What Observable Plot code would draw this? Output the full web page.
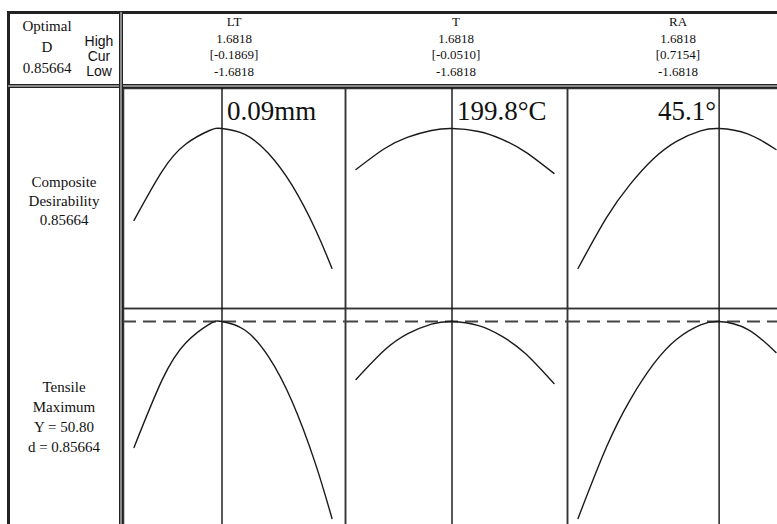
<!DOCTYPE html>
<html><head><meta charset="utf-8">
<script src="https://cdn.jsdelivr.net/npm/d3@7"></script>
<script src="https://cdn.jsdelivr.net/npm/@observablehq/plot@0.6"></script>
<style>
body{margin:0;background:#fff;overflow:hidden}
#wrap{position:relative;width:777px;height:524px;overflow:hidden;font-family:"Liberation Serif",serif;color:#111;background:#fff}
.a{position:absolute}
.c{text-align:center;white-space:nowrap}
</style></head><body><div id="wrap"></div><script>
// ---- data ----
const factors = ["LT", "T", "RA"];
const highs = ["1.6818", "1.6818", "1.6818"];
const currents = [-0.1869, -0.0510, 0.7154];
const lows = ["-1.6818", "-1.6818", "-1.6818"];
const optimumLabels = ["0.09mm", "199.8°C", "45.1°"];
const optimumD = "0.85664";
const tensileY = 50.80;

// coded factor settings at which the curves were read
const xLT = [-1.6818, -1.2, -0.8, -0.4, -0.1869, 0.2, 0.6, 1.0, 1.4, 1.6818];
const xT  = [-1.6818, -1.2, -0.8, -0.4, -0.0510, 0.4, 0.8, 1.2, 1.6818];
const xRA = [-1.6818, -1.2, -0.8, -0.4, 0.0, 0.4, 0.7154, 1.2, 1.6818];

// composite desirability
const dLT = [0.388, 0.641, 0.778, 0.847, 0.857, 0.827, 0.731, 0.569, 0.342, 0.143];
const dT  = [0.648, 0.754, 0.813, 0.847, 0.857, 0.842, 0.802, 0.737, 0.628];
const dRA = [0.143, 0.401, 0.571, 0.703, 0.793, 0.845, 0.857, 0.830, 0.750];

// predicted tensile strength
const yLT = [38.20, 45.01, 48.68, 50.54, 50.80, 49.95, 47.31, 42.85, 36.59, 31.10];
const yT  = [45.00, 47.92, 49.58, 50.53, 50.80, 50.38, 49.31, 47.58, 44.60];
const yRA = [31.10, 38.22, 42.92, 46.53, 49.05, 50.46, 50.80, 50.02, 47.70];

// ---- tables for Plot ----
const curves = [];
[[xLT, dLT, yLT], [xT, dT, yT], [xRA, dRA, yRA]].forEach(([xs, ds, ys], i) => {
  xs.forEach((x, j) => curves.push({factor: factors[i], x, d: ds[j], y: ys[j]}));
});
const opt = factors.map((f, i) => ({factor: f, x: currents[i], label: optimumLabels[i], i}));

const wrap = document.getElementById("wrap");
function div(css, html) {
  const e = document.createElement("div");
  e.className = "a";
  e.style.cssText = css;
  if (html != null) e.innerHTML = html;
  wrap.appendChild(e);
  return e;
}

const FW = 666, LEFT = 123;
const common = {
  width: FW, margin: 0,
  style: {background: "transparent", fontFamily: "Liberation Serif, serif", overflow: "visible"},
  fx: {domain: factors, padding: 0, axis: null},
  x: {domain: [-1.6818, 1.6818], insetLeft: 10.5, insetRight: 13.5, axis: null}
};

// row 1: composite desirability
const row1 = Plot.plot({
  ...common,
  height: 220,
  y: {domain: [0, 1], range: [208, 12], axis: null},
  marks: [
    Plot.frame({stroke: "#333", strokeWidth: 1.5}),
    Plot.ruleX(opt, {x: "x", fx: "factor", stroke: "#111", strokeWidth: 1.4}),
    Plot.line(curves, {x: "x", y: "d", fx: "factor", curve: "natural", stroke: "#1a1a1a", strokeWidth: 1.4}),
    Plot.text(opt.filter(d => d.i < 2), {x: "x", fx: "factor", text: "label", frameAnchor: "top", dy: 31, dx: 5, lineAnchor: "bottom", textAnchor: "start", fontSize: 27, fill: "#111"}),
    Plot.text(opt.filter(d => d.i === 2), {x: "x", fx: "factor", text: "label", frameAnchor: "top", dy: 31, dx: -3, lineAnchor: "bottom", textAnchor: "end", fontSize: 27, fill: "#111"})
  ]
});

// row 2: tensile, maximize
const row2 = Plot.plot({
  ...common,
  height: 225,
  y: {domain: [30, 52], range: [221, 1], axis: null},
  marks: [
    Plot.frame({stroke: "#333", strokeWidth: 1.5}),
    Plot.ruleY([tensileY], {stroke: "#444", strokeWidth: 1.8, strokeDasharray: "13,7"}),
    Plot.ruleX(opt, {x: "x", fx: "factor", stroke: "#111", strokeWidth: 1.4}),
    Plot.line(curves, {x: "x", y: "y", fx: "factor", curve: "natural", stroke: "#1a1a1a", strokeWidth: 1.4})
  ]
});

const r1 = div(`left:${LEFT}px;top:88px;width:${FW}px;height:220px;`);
r1.appendChild(row1);
const r2 = div(`left:${LEFT}px;top:308px;width:${FW}px;height:225px;`);
r2.appendChild(row2);

// frame lines
div("left:7px;top:11px;width:770px;height:3px;background:#222;");
div("left:7px;top:11px;width:3px;height:513px;background:#222;");
div("left:8px;top:84px;width:769px;height:2px;border-top:1px solid #222;border-bottom:1px solid #222;background:#8a8a8a;");
div("left:119px;top:12px;width:2px;height:512px;border-left:1px solid #222;border-right:1px solid #222;background:#8a8a8a;");

// header texts
div("left:8px;top:16px;width:78px;font-size:15px;line-height:21px;", `<div class="c">Optimal<br>D<br>${optimumD}</div>`);
div("left:80px;top:34px;width:38px;font-family:'Liberation Sans',sans-serif;font-size:14px;line-height:15px;", `<div class="c">High<br>Cur<br>Low</div>`);
factors.forEach((f, i) => {
  div(`left:${LEFT + 222 * i}px;top:14px;width:222px;font-size:13px;line-height:16.7px;`,
    `<div class="c">${f}<br>${highs[i]}<br>[${currents[i].toFixed(4)}]<br>${lows[i]}</div>`);
});

// row labels
div("left:8px;top:172.5px;width:112px;font-size:15px;line-height:19px;", `<div class="c">Composite<br>Desirability<br>${optimumD}</div>`);
div("left:8px;top:377px;width:112px;font-size:15px;line-height:20px;", `<div class="c">Tensile<br>Maximum<br>Y = ${tensileY.toFixed(2)}<br>d = ${optimumD}</div>`);
</script></body></html>
